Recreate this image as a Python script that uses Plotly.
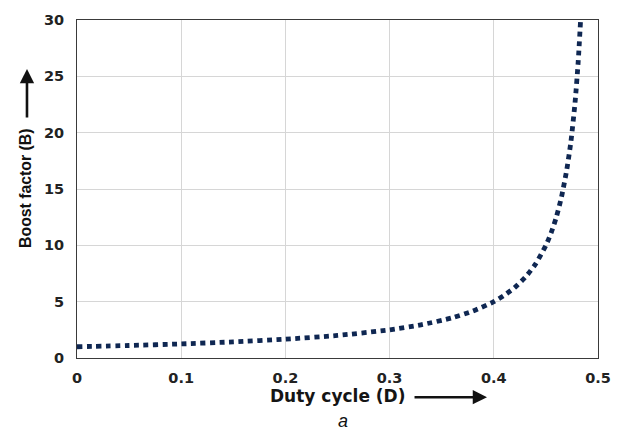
import plotly.graph_objects as go

# Boost factor B versus duty cycle D
duty_cycle = [0.0, 0.05, 0.10, 0.15, 0.20, 0.25, 0.30, 0.33, 0.36, 0.38, 0.40,
              0.41, 0.42, 0.43, 0.44, 0.45, 0.455, 0.46, 0.465, 0.47, 0.474,
              0.478, 0.481, 0.4833]
boost_factor = [1.00, 1.11, 1.25, 1.43, 1.67, 2.00, 2.50, 2.94, 3.57, 4.17, 5.00,
                5.56, 6.25, 7.14, 8.33, 10.0, 11.1, 12.5, 14.3, 16.7, 19.2,
                22.7, 26.3, 30.0]

x_ticks = [0, 0.1, 0.2, 0.3, 0.4, 0.5]
x_tick_text = ["0", "0.1", "0.2", "0.3", "0.4", "0.5"]
y_ticks = [0, 5, 10, 15, 20, 25, 30]

curve_color = "#0f2752"
font_family = "DejaVu Sans, Verdana, sans-serif"
title_family = "Liberation Sans, Arial, sans-serif"
text_color = "#151515"

fig = go.Figure()
fig.add_trace(go.Scatter(
    x=duty_cycle, y=boost_factor, mode="lines",
    line=dict(color=curve_color, width=4.8, dash="5px,4.5px", shape="spline",
              smoothing=0.6),
    hoverinfo="skip", showlegend=False,
))

axis_common = dict(
    showline=True, linecolor="#3a3a3a", linewidth=1, mirror=True,
    showgrid=True, gridcolor="#d6d6d6", gridwidth=1,
    zeroline=False, ticks="",
    tickfont=dict(family=font_family, size=14.5, color="#222222", weight="bold"),
)

fig.update_xaxes(range=[0, 0.5], tickvals=x_ticks, ticktext=x_tick_text,
                 ticklabelstandoff=7, **axis_common)
fig.update_yaxes(range=[0, 30], tickvals=y_ticks, ticklabelstandoff=9,
                 **axis_common)

annotations = [
    # y-axis title
    dict(text="Boost factor (B)", textangle=-90, xref="paper", yref="paper",
         x=-0.098, y=0.503, showarrow=False, xanchor="center", yanchor="middle",
         font=dict(family=title_family, size=15.8, color="#111111",
                   weight="bold")),
    # upward arrow above the y-axis title
    dict(text="", xref="paper", yref="paper", x=-0.096, y=0.855,
         ax=0, ay=50, showarrow=True, arrowhead=2, arrowsize=1.1,
         arrowwidth=2.6, arrowcolor="#111111"),
    # x-axis title
    dict(text="Duty cycle (D)", xref="paper", yref="paper",
         x=0.501, y=-0.113, showarrow=False, xanchor="center", yanchor="middle",
         font=dict(family=font_family, size=17, color=text_color,
                   weight="bold")),
    # rightward arrow after the x-axis title
    dict(text="", xref="paper", yref="paper", x=0.787, y=-0.116,
         ax=-74, ay=0, showarrow=True, arrowhead=2, arrowsize=1.1,
         arrowwidth=2.6, arrowcolor="#111111"),
    # panel caption
    dict(text="<i>a</i>", xref="paper", yref="paper", x=0.511, y=-0.185,
         showarrow=False, xanchor="center", yanchor="middle",
         font=dict(family=title_family, size=18, color="#111111")),
]

fig.update_layout(
    width=629, height=434,
    margin=dict(l=77, r=31, t=12, b=76),
    paper_bgcolor="white", plot_bgcolor="white",
    annotations=annotations,
)

fig.write_html("out.html")
